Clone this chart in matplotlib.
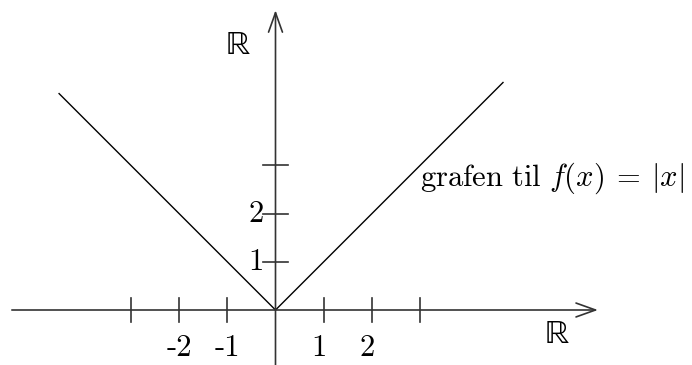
import matplotlib
matplotlib.use("Agg")
import matplotlib.pyplot as plt

plt.rcParams['mathtext.fontset'] = 'cm'

# data
fx = [-4.49, 0.0, 4.72]
fy = [4.49, 0.0, 4.72]
xticks = [-3, -2, -1, 1, 2, 3]
xlabels = [-2, -1, 1, 2]
yticks = [1, 2, 3]
ylabels = [1, 2]
x_axis = (-5.47, 6.69)
y_axis = (-1.2, 6.22)
graph_label = r"$\mathrm{grafen\ til}\ f(x)\:=\:|x|$"
axis_name = "\u211d"

fig = plt.figure(figsize=(6.92, 3.65), dpi=100)
ax = fig.add_axes([0, 0, 1, 1])
ax.set_xlim(-275.5 / 48.2, (692 - 275.5) / 48.2)
ax.set_ylim(-55 / 48.2, 310 / 48.2)
ax.axis('off')

axcol = '#333333'
arrow = dict(arrowstyle='->,head_length=0.7,head_width=0.25', color=axcol,
             lw=1.2, shrinkA=0, shrinkB=0, mutation_scale=20)
ax.annotate('', xy=(x_axis[1], 0), xytext=(x_axis[0], 0), arrowprops=arrow)
ax.annotate('', xy=(0, y_axis[1]), xytext=(0, y_axis[0]), arrowprops=arrow)

tl = 0.25
for t in xticks:
    ax.plot([t, t], [-tl, tl], color=axcol, lw=1.2)
for t in yticks:
    ax.plot([-tl, tl], [t, t], color=axcol, lw=1.2)

ax.plot(fx, fy, color='black', lw=1.0)

fs = 22
for v in xlabels:
    ax.text(v - 0.1 if v > 0 else v, -0.79, str(v), family='cmr10', fontsize=fs,
            ha='center', va='center')
for v in ylabels:
    ax.text(-0.25, v - 0.02, str(v), family='cmr10', fontsize=fs,
            ha='right', va='center')

ax.text(5.84, -0.52, axis_name, fontsize=24, ha='center', va='center',
        family=['STIXGeneral', 'DejaVu Serif'])
ax.text(-0.78, 5.48, axis_name, fontsize=24, ha='center', va='center',
        family=['STIXGeneral', 'DejaVu Serif'])
ax.text(3.0, 2.57, graph_label, fontsize=fs, ha='left', va='baseline')

fig.savefig('out.png', dpi=100)
